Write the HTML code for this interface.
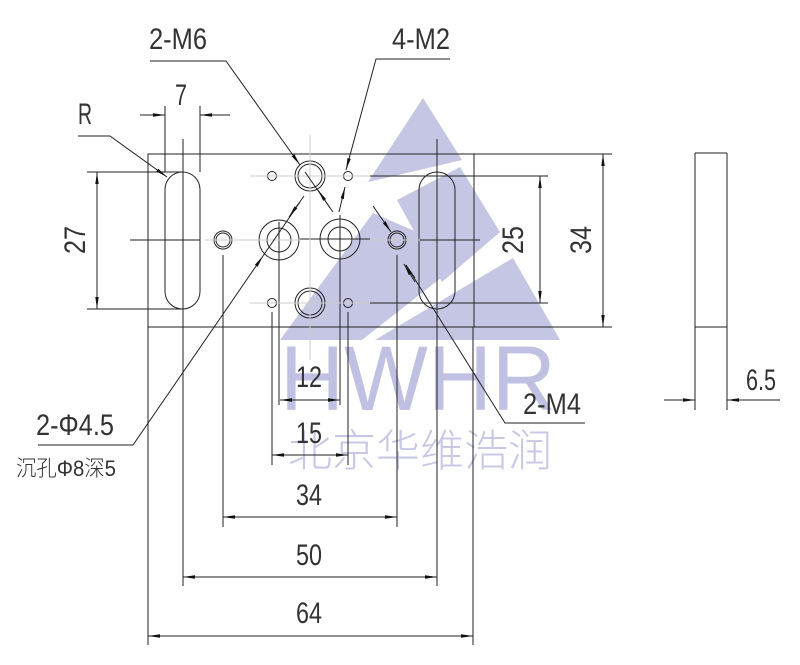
<!DOCTYPE html>
<html><head><meta charset="utf-8"><style>
html,body{margin:0;padding:0;background:#fff;}
svg{display:block;}
text{font-family:"Liberation Sans Narrow","Liberation Sans","Noto Sans CJK SC",sans-serif;fill:#333;font-weight:300;}
</style></head><body>
<svg width="800" height="665" viewBox="0 0 800 665" xmlns="http://www.w3.org/2000/svg">
<defs>
<marker id="a" viewBox="0 0 12 4" refX="12" refY="2" markerWidth="12" markerHeight="4" markerUnits="userSpaceOnUse" orient="auto"><path d="M0,0.3 L12,2 L0,3.7z" fill="#111"/></marker>
</defs>
<g fill="#c5c5e4">
<polygon points="423,98 462,160 368,182"/>
<polygon points="397,200 460,167 500,232 442,282"/>
<polygon points="280,340 373,213 470,255 362,340"/>
<polygon points="375,340 513,258 560,340"/>
</g>
<text x="280" y="410" font-size="92" style="fill:#c0c0e2;font-family:'Liberation Sans',sans-serif;font-weight:400" textLength="276" lengthAdjust="spacingAndGlyphs">HWHR</text>
<text x="288" y="466" font-size="44" style="fill:#c8c8e6;font-family:'Liberation Sans','Noto Sans CJK SC',sans-serif" textLength="264" lengthAdjust="spacingAndGlyphs">北京华维浩润</text>

<g stroke="#222" stroke-width="1" fill="none">
<rect x="148" y="154" width="326" height="173"/>
<rect x="165" y="172" width="35" height="137" rx="17.5"/>
<rect x="419" y="172" width="36" height="137" rx="18"/>
<line x1="695" y1="153" x2="727" y2="153"/>
<line x1="695" y1="153" x2="695" y2="410"/>
<line x1="727" y1="153" x2="727" y2="410"/>
<line x1="695" y1="327" x2="727" y2="327"/>
<circle cx="223" cy="240" r="9"/><circle cx="223" cy="240" r="7"/>
<circle cx="397" cy="240" r="9"/><circle cx="397" cy="240" r="7"/>
<circle cx="279" cy="240" r="20"/><circle cx="279" cy="240" r="12"/>
<circle cx="340" cy="239" r="20"/><circle cx="340" cy="239" r="12"/>
<circle cx="310" cy="176" r="15"/><circle cx="310" cy="176" r="12"/>
<circle cx="310" cy="303" r="15"/><circle cx="310" cy="303" r="12"/>
<circle cx="272" cy="176" r="4.5"/><circle cx="348" cy="176" r="4.5"/>
<circle cx="272" cy="303" r="4.5"/><circle cx="348" cy="303" r="4.5"/>
<line x1="130" y1="240" x2="200" y2="240"/>
<line x1="420" y1="240" x2="480" y2="240" />
<line x1="300" y1="239" x2="370" y2="239"/>
<line x1="183" y1="139" x2="183" y2="586"/>
<line x1="437" y1="139" x2="437" y2="586"/>
<line x1="370" y1="176" x2="548" y2="176"/>
<line x1="370" y1="303" x2="548" y2="303"/>
<line x1="340" y1="215" x2="340" y2="405"/>
<line x1="279" y1="222" x2="279" y2="405"/>
<line x1="223" y1="255" x2="223" y2="527"/>
<line x1="397" y1="255" x2="397" y2="527"/>
<line x1="272" y1="312" x2="272" y2="465"/>
<line x1="348" y1="312" x2="348" y2="465"/>
<line x1="148" y1="327" x2="148" y2="645"/>
<line x1="473" y1="327" x2="473" y2="645"/>
<line x1="165" y1="106" x2="165" y2="172"/>
<line x1="200" y1="106" x2="200" y2="172"/>
<line x1="87" y1="172" x2="183" y2="172"/>
<line x1="87" y1="309" x2="183" y2="309"/>
<line x1="474" y1="154" x2="612" y2="154"/>
<line x1="474" y1="327" x2="612" y2="327"/>
</g>
<g stroke="#ccc" stroke-width="1">
<line x1="310" y1="135" x2="310" y2="360"/>
<line x1="250" y1="176" x2="370" y2="176"/>
<line x1="250" y1="303" x2="370" y2="303"/>
<line x1="205" y1="240" x2="300" y2="240"/>
<line x1="370" y1="240" x2="420" y2="240"/>
</g>
<g stroke="#222" stroke-width="1" fill="none">
<line x1="97" y1="240" x2="97" y2="172" marker-end="url(#a)"/><line x1="97" y1="240" x2="97" y2="309" marker-end="url(#a)"/>
<line x1="540" y1="240" x2="540" y2="176" marker-end="url(#a)"/><line x1="540" y1="240" x2="540" y2="303" marker-end="url(#a)"/>
<line x1="603" y1="240" x2="603" y2="154" marker-end="url(#a)"/><line x1="603" y1="240" x2="603" y2="327" marker-end="url(#a)"/>
<line x1="140" y1="115" x2="165" y2="115" marker-end="url(#a)"/><line x1="230" y1="115" x2="200" y2="115" marker-end="url(#a)"/>
<line x1="664" y1="400" x2="695" y2="400" marker-end="url(#a)"/><line x1="780" y1="400" x2="727" y2="400" marker-end="url(#a)"/>
<line x1="310" y1="400" x2="280" y2="400" marker-end="url(#a)"/><line x1="310" y1="400" x2="340" y2="400" marker-end="url(#a)"/>
<line x1="310" y1="455" x2="272" y2="455" marker-end="url(#a)"/><line x1="310" y1="455" x2="348" y2="455" marker-end="url(#a)"/>
<line x1="310" y1="517" x2="223" y2="517" marker-end="url(#a)"/><line x1="310" y1="517" x2="397" y2="517" marker-end="url(#a)"/>
<line x1="310" y1="577" x2="183" y2="577" marker-end="url(#a)"/><line x1="310" y1="577" x2="437" y2="577" marker-end="url(#a)"/>
<line x1="310" y1="636" x2="148" y2="636" marker-end="url(#a)"/><line x1="310" y1="636" x2="473" y2="636" marker-end="url(#a)"/>
<polyline points="78,136 110,136 167,177" marker-end="url(#a)"/>
<polyline points="150,61 226,61 300,165" marker-end="url(#a)"/>
<line x1="305" y1="172" x2="333" y2="212" />
<line x1="330" y1="208" x2="318" y2="190" marker-end="url(#a)"/>
<polyline points="450,59 376,59 346,170" marker-end="url(#a)"/>
<line x1="339" y1="212" x2="345" y2="187" marker-end="url(#a)"/>
<polyline points="38,445 133,445 263,256" marker-end="url(#a)"/>
<line x1="263" y1="256" x2="300" y2="202"/>
<line x1="304" y1="196" x2="289" y2="217" marker-end="url(#a)"/>
<polyline points="585,423 505,423 406,265"/>
<line x1="406" y1="265" x2="415" y2="278" />
<line x1="373" y1="206" x2="391" y2="232" marker-end="url(#a)"/>
<line x1="415" y1="282" x2="404" y2="264" marker-end="url(#a)"/>
</g>
<g font-size="30">
<text x="149" y="49" textLength="58" lengthAdjust="spacingAndGlyphs">2-M6</text>
<text x="392" y="49" textLength="58" lengthAdjust="spacingAndGlyphs">4-M2</text>
<text x="175" y="105" textLength="12" lengthAdjust="spacingAndGlyphs">7</text>
<text x="78" y="124" textLength="14" lengthAdjust="spacingAndGlyphs">R</text>
<text x="296" y="387" textLength="26" lengthAdjust="spacingAndGlyphs">12</text>
<text x="296" y="443" textLength="26" lengthAdjust="spacingAndGlyphs">15</text>
<text x="296" y="505" textLength="26" lengthAdjust="spacingAndGlyphs">34</text>
<text x="296" y="565" textLength="26" lengthAdjust="spacingAndGlyphs">50</text>
<text x="296" y="623" textLength="26" lengthAdjust="spacingAndGlyphs">64</text>
<text x="746" y="390" textLength="30" lengthAdjust="spacingAndGlyphs">6.5</text>
<text x="523" y="414" textLength="58" lengthAdjust="spacingAndGlyphs">2-M4</text>
<text x="36" y="435" textLength="78" lengthAdjust="spacingAndGlyphs">2-Φ4.5</text>
<text transform="translate(85,240) rotate(-90)" x="-14" y="0" textLength="28" lengthAdjust="spacingAndGlyphs">27</text>
<text transform="translate(523,240) rotate(-90)" x="-14" y="0" textLength="28" lengthAdjust="spacingAndGlyphs">25</text>
<text transform="translate(591,240) rotate(-90)" x="-14" y="0" textLength="28" lengthAdjust="spacingAndGlyphs">34</text>
</g>
<text x="16" y="476" font-size="22" textLength="100" lengthAdjust="spacingAndGlyphs" style="font-family:'Liberation Sans','Noto Sans CJK SC',sans-serif">沉孔Φ8深5</text>
</svg>
</body></html>
